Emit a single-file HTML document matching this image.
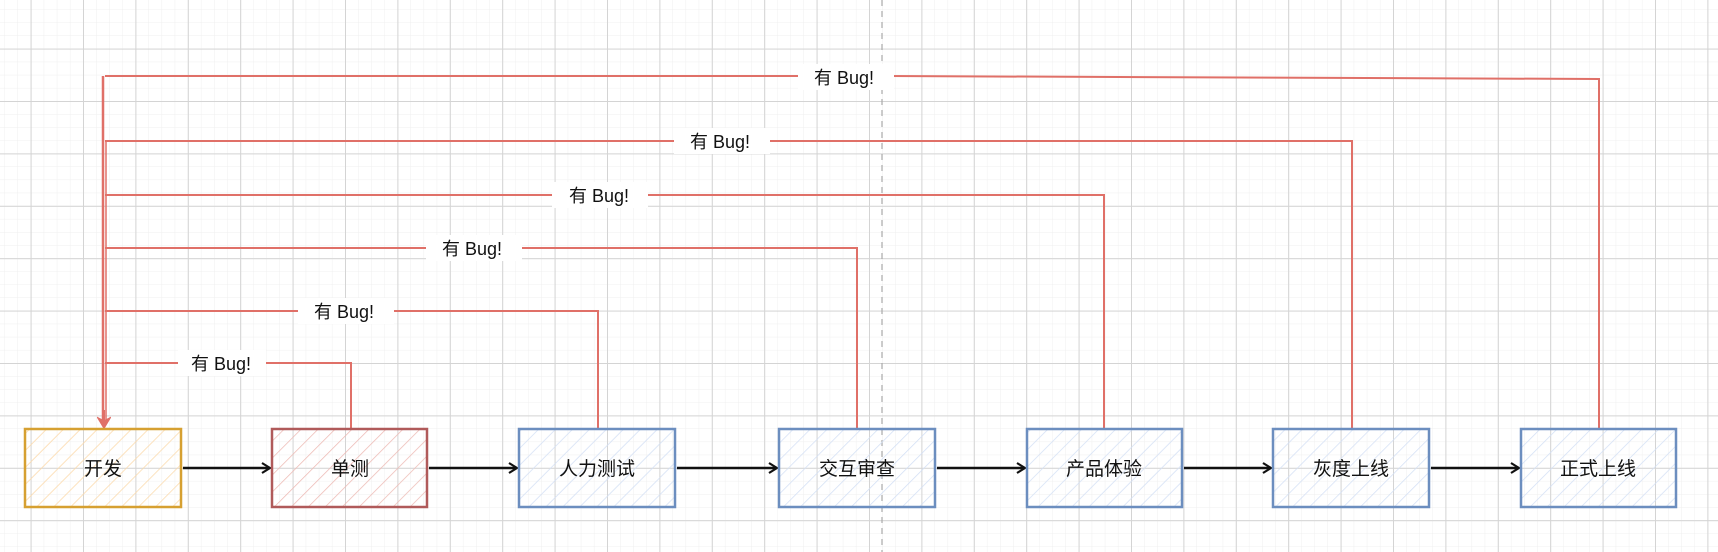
<!DOCTYPE html>
<html><head><meta charset="utf-8"><style>
html,body{margin:0;padding:0;background:#fff}
svg{display:block}
text{font-family:"Liberation Sans","Noto Sans CJK SC",sans-serif}
</style></head><body>
<svg width="1718" height="552" viewBox="0 0 1718 552" xmlns="http://www.w3.org/2000/svg">
<defs>
<pattern id="gmin" x="30.6" y="48.6" width="13.1" height="13.1" patternUnits="userSpaceOnUse">
<path d="M0 0H13.1M0 0V13.1" stroke="#efefef" stroke-width="1" fill="none"/>
</pattern>
<pattern id="gmaj" x="30.6" y="48.6" width="52.4" height="52.4" patternUnits="userSpaceOnUse">
<path d="M0 0.5H52.4M0.5 0V52.4" stroke="#d4d4d4" stroke-width="1" fill="none"/>
</pattern>
<pattern id="hy" width="12" height="12" patternUnits="userSpaceOnUse" patternTransform="rotate(45)"><line x1="0" y1="0" x2="0" y2="12" stroke="#fcd9a9" stroke-width="1.5"/></pattern>
<pattern id="hr" width="12" height="12" patternUnits="userSpaceOnUse" patternTransform="rotate(45)"><line x1="0" y1="0" x2="0" y2="12" stroke="#eebbb6" stroke-width="1.5"/></pattern>
<pattern id="hb" width="12" height="12" patternUnits="userSpaceOnUse" patternTransform="rotate(45)"><line x1="0" y1="0" x2="0" y2="12" stroke="#d3e0f5" stroke-width="1.5"/></pattern>
<marker id="ab" markerWidth="12" markerHeight="12" refX="10" refY="6" orient="auto" markerUnits="userSpaceOnUse"><path d="M2 1L10 6L2 11" fill="none" stroke="#111" stroke-width="2.2"/></marker>
<marker id="ar" markerWidth="14" markerHeight="14" refX="7" refY="12" orient="0" markerUnits="userSpaceOnUse"><path d="M1 2L7 12L13 2L7 5Z" fill="#e07068" stroke="#e07068" stroke-width="1.5"/></marker>
</defs>
<rect width="1718" height="552" fill="url(#gmin)"/>
<rect width="1718" height="552" fill="url(#gmaj)"/>
<line x1="882" y1="0" x2="882" y2="552" stroke="#aaa" stroke-width="1.2" stroke-dasharray="6 5"/>

<g fill="none" stroke="#e07068" stroke-width="2">
<path d="M351 428V363H105"/>
<path d="M598 428V311H105"/>
<path d="M857 428V248H105"/>
<path d="M1104 428V195H105"/>
<path d="M1352 428V141H105"/>
<path d="M1599 428V79L882 76H105"/>
<path d="M103 76V420" stroke-width="2.5"/>
<path d="M106 141V420" stroke-width="1.5"/>
<line x1="104" y1="410" x2="104" y2="428" marker-end="url(#ar)"/>
</g>

<g fill="#fff">
<rect x="178" y="350" width="88" height="26"/>
<rect x="298" y="298" width="96" height="26"/>
<rect x="426" y="235" width="96" height="26"/>
<rect x="552" y="182" width="96" height="26"/>
<rect x="674" y="128" width="96" height="26"/>
<rect x="798" y="64" width="96" height="26"/>
</g>
<g font-size="18" fill="#111" text-anchor="middle">
<text x="221" y="370">有 Bug!</text>
<text x="344" y="318">有 Bug!</text>
<text x="472" y="255">有 Bug!</text>
<text x="599" y="202">有 Bug!</text>
<text x="720" y="148">有 Bug!</text>
<text x="844" y="84">有 Bug!</text>
</g>

<g stroke="#111" stroke-width="2.5" fill="none">
<line x1="183" y1="468" x2="270" y2="468" marker-end="url(#ab)"/>
<line x1="429" y1="468" x2="517" y2="468" marker-end="url(#ab)"/>
<line x1="677" y1="468" x2="777" y2="468" marker-end="url(#ab)"/>
<line x1="937" y1="468" x2="1025" y2="468" marker-end="url(#ab)"/>
<line x1="1184" y1="468" x2="1271" y2="468" marker-end="url(#ab)"/>
<line x1="1431" y1="468" x2="1519" y2="468" marker-end="url(#ab)"/>
</g>

<g stroke-width="2.5">
<rect x="25" y="429" width="156" height="78" fill="url(#hy)" stroke="#d6a031"/>
<rect x="272" y="429" width="155" height="78" fill="url(#hr)" stroke="#b05a5a"/>
<rect x="519" y="429" width="156" height="78" fill="url(#hb)" stroke="#6c8ebf"/>
<rect x="779" y="429" width="156" height="78" fill="url(#hb)" stroke="#6c8ebf"/>
<rect x="1027" y="429" width="155" height="78" fill="url(#hb)" stroke="#6c8ebf"/>
<rect x="1273" y="429" width="156" height="78" fill="url(#hb)" stroke="#6c8ebf"/>
<rect x="1521" y="429" width="155" height="78" fill="url(#hb)" stroke="#6c8ebf"/>
</g>
<g font-size="19" fill="#111" text-anchor="middle">
<text x="103" y="475">开发</text>
<text x="350" y="475">单测</text>
<text x="597" y="475">人力测试</text>
<text x="857" y="475">交互审查</text>
<text x="1104" y="475">产品体验</text>
<text x="1351" y="475">灰度上线</text>
<text x="1598" y="475">正式上线</text>
</g>
</svg>
</body></html>
